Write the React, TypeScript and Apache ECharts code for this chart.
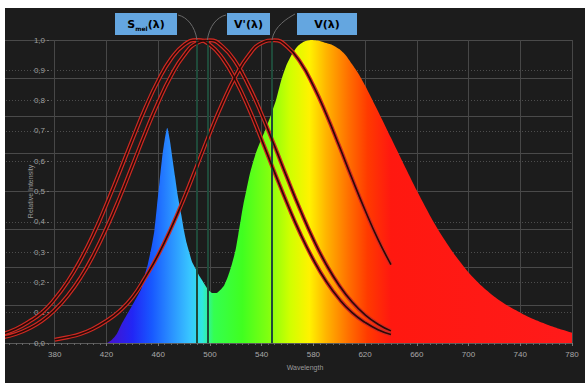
import React, { useEffect, useRef } from "react";
import * as echarts from "echarts";

// Spectrum of the light source (wavelength in nm, relative intensity)
const specWl = [340, 420, 424, 428, 432, 436, 440, 444, 447, 450, 452, 455, 457, 459, 461, 463, 465, 467, 469, 471, 473, 475, 478, 480, 482, 484, 486, 489, 492, 495, 498, 502, 505, 508, 511, 514, 517, 520, 522, 524, 526, 528, 531, 535, 539, 543, 547, 551, 555, 559, 563, 568, 573, 578, 585, 590, 595, 600, 605, 610, 615, 620, 630, 640, 650, 660, 670, 680, 690, 700, 710, 720, 730, 740, 750, 760, 770, 780];
const specVal = [0, 0, 0.01, 0.03, 0.065, 0.095, 0.125, 0.155, 0.18, 0.23, 0.26, 0.32, 0.37, 0.45, 0.53, 0.61, 0.67, 0.71, 0.67, 0.61, 0.55, 0.49, 0.42, 0.37, 0.33, 0.3, 0.27, 0.245, 0.22, 0.2, 0.18, 0.165, 0.165, 0.175, 0.19, 0.22, 0.26, 0.31, 0.36, 0.41, 0.46, 0.5, 0.56, 0.62, 0.665, 0.705, 0.75, 0.8, 0.865, 0.915, 0.95, 0.98, 0.995, 1.0, 0.997, 0.99, 0.983, 0.97, 0.95, 0.92, 0.888, 0.85, 0.765, 0.677, 0.589, 0.503, 0.422, 0.35, 0.287, 0.233, 0.189, 0.153, 0.124, 0.1, 0.079, 0.062, 0.047, 0.034];

// Sensitivity curves
const curveWl = [340, 350, 360, 370, 380, 390, 400, 410, 420, 430, 440, 450, 460, 470, 480, 490, 500, 510, 520, 530, 540, 550, 560, 570, 580, 590, 600, 610, 620, 630, 640];
const sMel = [0.03, 0.046, 0.07, 0.1, 0.145, 0.203, 0.275, 0.36, 0.458, 0.563, 0.671, 0.775, 0.866, 0.938, 0.984, 1.0, 0.984, 0.938, 0.866, 0.775, 0.671, 0.563, 0.458, 0.36, 0.275, 0.203, 0.145, 0.1, 0.068, 0.044, 0.028];
const vPrime = [0.019, 0.03, 0.048, 0.073, 0.109, 0.156, 0.216, 0.291, 0.379, 0.478, 0.585, 0.693, 0.794, 0.882, 0.95, 0.99, 0.999, 0.977, 0.926, 0.849, 0.755, 0.65, 0.542, 0.438, 0.342, 0.259, 0.19, 0.135, 0.093, 0.062, 0.04];
const vWl = [380, 390, 400, 410, 420, 430, 440, 450, 460, 470, 480, 490, 500, 510, 520, 530, 540, 550, 560, 570, 580, 590, 600, 610, 620, 630, 640];
const vPhot = [0.011, 0.019, 0.03, 0.048, 0.073, 0.105, 0.15, 0.216, 0.291, 0.379, 0.478, 0.585, 0.693, 0.794, 0.882, 0.95, 0.99, 0.999, 0.977, 0.926, 0.849, 0.755, 0.65, 0.542, 0.438, 0.342, 0.259];

const peakWl = [490, 498, 548];
const xTickLabels = [380, 420, 460, 500, 540, 580, 620, 660, 700, 740, 780];

const XMIN = 340;
const XMAX = 780;

export default function App() {
  const ref = useRef<HTMLDivElement>(null);

  useEffect(() => {
    const chart = echarts.init(ref.current!, null, { renderer: "svg" });
    const pair = (xs: number[], ys: number[]) => xs.map((x, i) => [x, ys[i]]);
    const off = (w: number) => (w - XMIN) / (XMAX - XMIN);

    const gradient = {
      type: "linear",
      x: 0, y: 0, x2: 1, y2: 0,
      colorStops: [
        { offset: off(420), color: "#4a10c8" },
        { offset: off(440), color: "#2226f5" },
        { offset: off(455), color: "#1858ff" },
        { offset: off(470), color: "#2a90ff" },
        { offset: off(484), color: "#38c4ff" },
        { offset: off(494), color: "#30e8e0" },
        { offset: off(503), color: "#34ff50" },
        { offset: off(525), color: "#40ff20" },
        { offset: off(545), color: "#80ff10" },
        { offset: off(562), color: "#d0ff00" },
        { offset: off(577), color: "#fff200" },
        { offset: off(590), color: "#ffb400" },
        { offset: off(607), color: "#ff7000" },
        { offset: off(622), color: "#ff3a00" },
        { offset: off(640), color: "#ff1810" },
        { offset: 1, color: "#ff1a1a" },
      ],
    };

    const redOuter = "#cf2a22";
    const redInner = "#2a0a08";
    const curve = (name: string, data: number[][], outer: boolean) => ({
      name,
      type: "line",
      data,
      smooth: true,
      showSymbol: false,
      silent: true,
      z: outer ? 4 : 5,
      lineStyle: outer ? { color: redOuter, width: 4 } : { color: redInner, width: 1.6 },
    });

    chart.setOption({
      animation: false,
      backgroundColor: "#1c1c1c",
      grid: { left: 3, right: 13, top: 40, bottom: 40 },
      xAxis: {
        type: "value",
        min: XMIN,
        max: XMAX,
        interval: 40,
        axisLine: { show: true, lineStyle: { color: "#5a5a5a", width: 1 } },
        axisTick: { show: true, length: 3, lineStyle: { color: "#777" } },
        minorTick: { show: true, splitNumber: 8, length: 2, lineStyle: { color: "#666" } },
        axisLabel: {
          color: "#a8a8a8",
          fontSize: 8,
          fontFamily: "Liberation Sans",
          margin: 7,
          formatter: (v: number) => (xTickLabels.includes(v) ? String(v) : ""),
        },
        splitLine: { show: true, lineStyle: { color: "#474747", width: 1 } },
      },
      yAxis: [
        {
          type: "value",
          min: 0,
          max: 1,
          interval: 0.1,
          offset: -46,
          name: "Relative Intensity",
          nameLocation: "middle",
          nameRotate: 90,
          nameGap: 15,
          nameMoveOverlap: false,
          nameTextStyle: { color: "#9a9a9a", fontSize: 7, fontFamily: "Liberation Sans" },
          axisLine: { show: false },
          axisTick: { show: true, length: 2, lineStyle: { color: "#777" } },
          axisLabel: {
            color: "#a0a0a0",
            fontSize: 8,
            fontFamily: "Liberation Sans",
            margin: 4,
            formatter: (v: number) => v.toFixed(1).replace(".", ","),
          },
          splitLine: { show: true, lineStyle: { color: "#4d4d4d", type: [1, 2], width: 1 } },
        },
        {
          type: "value",
          min: 0,
          max: 1,
          interval: 0.125,
          position: "left",
          axisLine: { show: false },
          axisTick: { show: false },
          axisLabel: { show: false },
          splitLine: { show: true, lineStyle: { color: "#4a4a4a", width: 1 } },
        },
      ],
      series: [
        {
          name: "Spectrum",
          type: "line",
          data: pair(specWl, specVal),
          smooth: 0.2,
          showSymbol: false,
          silent: true,
          z: 1,
          lineStyle: { width: 0 },
          areaStyle: { color: gradient, opacity: 1 },
        },
        {
          name: "Peaks",
          type: "line",
          data: [],
          silent: true,
          z: 3,
          markLine: {
            symbol: "none",
            silent: true,
            label: { show: false },
            lineStyle: { color: "#1f4a3a", width: 2, type: "solid" },
            data: peakWl.map((w) => [{ coord: [w, 0] }, { coord: [w, 1] }]),
          },
        },
        curve("S_mel", pair(curveWl, sMel), true),
        curve("S_mel", pair(curveWl, sMel), false),
        curve("V'", pair(curveWl, vPrime), true),
        curve("V'", pair(curveWl, vPrime), false),
        curve("V", pair(vWl, vPhot), true),
        curve("V", pair(vWl, vPhot), false),
      ],
    });

    const pk = peakWl.map((w) => chart.convertToPixel({ xAxisIndex: 0, yAxisIndex: 0 }, [w, 1]) as number[]);
    const boxFill = "#64a6e0";
    const textColor = "#16202e";
    const boxes = [
      { x: 115, w: 62, text: "{a|S}{b|mel}{a|(λ)}" },
      { x: 227, w: 43, text: "{a|V'(λ)}" },
      { x: 297, w: 60, text: "{a|V(λ)}" },
    ];
    const rich = {
      a: { fontSize: 11, fontWeight: "bold", fontFamily: "DejaVu Sans", color: textColor, lineHeight: 14, verticalAlign: "middle" },
      b: { fontSize: 6, fontWeight: "bold", fontFamily: "DejaVu Sans", color: textColor, lineHeight: 6, verticalAlign: "bottom" },
    };
    const graphic: any[] = [];
    boxes.forEach((b) => {
      graphic.push({ type: "rect", shape: { x: b.x, y: 13, width: b.w, height: 22 }, style: { fill: boxFill }, z: 10 });
      graphic.push({
        type: "text",
        x: b.x + b.w / 2,
        y: 24,
        z: 11,
        style: { text: b.text, rich, align: "center", verticalAlign: "middle" },
      });
    });
    const conn = (x1: number, y1: number, c1x: number, c1y: number, c2x: number, c2y: number, p: number[]) => ({
      type: "bezierCurve",
      z: 9,
      shape: { x1, y1, cpx1: c1x, cpy1: c1y, cpx2: c2x, cpy2: c2y, x2: p[0], y2: p[1] },
      style: { stroke: "#6a6a6a", lineWidth: 1, fill: "none" },
    });
    graphic.push(conn(178, 15, 187, 17, pk[0][0] - 2, pk[0][1] - 14, pk[0]));
    graphic.push(conn(226, 15, 217, 17, pk[1][0] + 2, pk[1][1] - 14, pk[1]));
    graphic.push(conn(295, 14, 288, 18, pk[2][0] + 2, pk[2][1] - 14, pk[2]));
    graphic.push({
      type: "text",
      x: 305,
      y: 367,
      style: { text: "Wavelength", fill: "#9a9a9a", fontSize: 7, fontFamily: "Liberation Sans", align: "center", verticalAlign: "middle" },
    });
    chart.setOption({ graphic });

    return () => chart.dispose();
  }, []);

  return (
    <div style={{ position: "fixed", left: 0, top: 0, width: 585, height: 383, background: "#ffffff" }}>
      <div ref={ref} style={{ position: "absolute", left: 0, top: 0, width: 585, height: 383 }} />
      <div style={{ position: "absolute", left: 0, top: 0, width: 585, height: 8, background: "#ffffff" }} />
      <div style={{ position: "absolute", left: 0, top: 0, width: 5, height: 383, background: "#ffffff" }} />
    </div>
  );
}
